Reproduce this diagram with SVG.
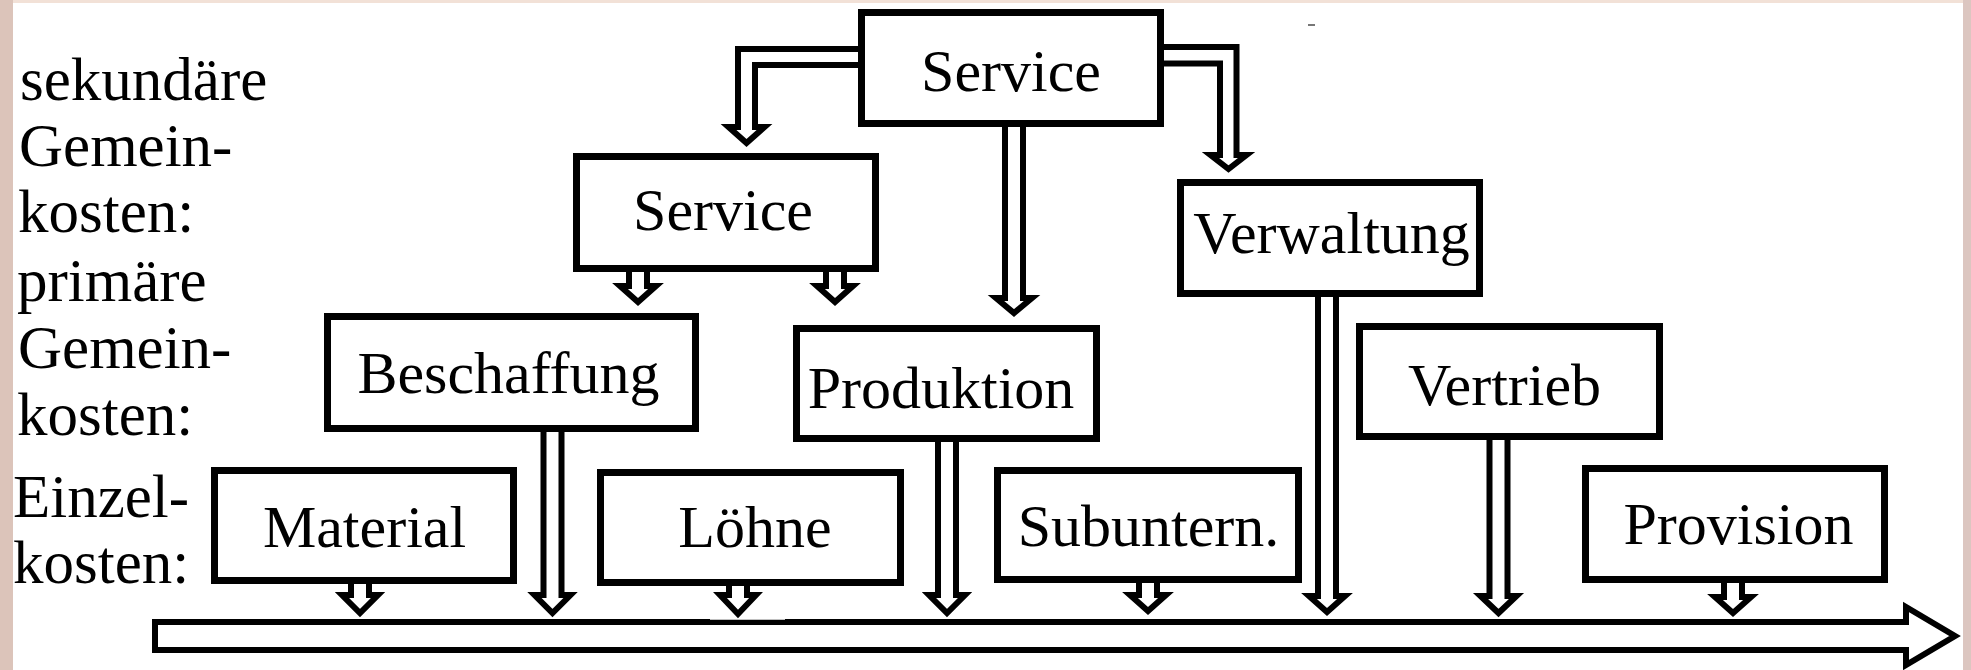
<svg xmlns="http://www.w3.org/2000/svg" width="1971" height="670" viewBox="0 0 1971 670">
<style>
.box{fill:#fff;stroke:#000;stroke-width:7}
.arr{fill:#fff;stroke:#000;stroke-width:6;stroke-linejoin:miter;stroke-miterlimit:10}
.t{font-family:"Liberation Serif","Times New Roman",serif;font-size:60px;fill:#000;text-anchor:middle}
.lbl{font-family:"Liberation Serif","Times New Roman",serif;font-size:61px;fill:#000}
</style>
<g id="background">
<rect x="0" y="0" width="1971" height="670" fill="#fff"/>
<rect x="0" y="0" width="1971" height="3" fill="#f2e1d7"/>
<rect x="0" y="0" width="13" height="670" fill="#dcc4ba"/>
<rect x="1963" y="0" width="8" height="670" fill="#dcc6c0"/>
<rect x="1308" y="24" width="7" height="2" fill="#777"/>
</g>
<g id="labels">
<text class="lbl" x="20" y="100">sekundäre</text>
<text class="lbl" x="19" y="166">Gemein-</text>
<text class="lbl" x="18" y="232">kosten:</text>
<text class="lbl" x="17" y="301">primäre</text>
<text class="lbl" x="18" y="368">Gemein-</text>
<text class="lbl" x="17" y="435">kosten:</text>
<text class="lbl" x="13" y="517">Einzel-</text>
<text class="lbl" x="13" y="583">kosten:</text>
</g>
<g id="connectors">
<path class="arr" d="M155,622 H1906 V607 L1955,636 L1906,665 V650 H155 Z"/>
<line x1="710" y1="619" x2="785" y2="619" stroke="#fff" stroke-width="1.5"/>
<path class="arr" d="M861.5,49 H738 V127 H728.5 L746.5,143 L764.5,127 H755 V65 H861.5"/>
<path class="arr" d="M1160.5,47 H1236.5 V155 H1246.5 L1228.5,169 L1210.5,155 H1220 V63.5 H1160.5"/>
<path class="arr" d="M1005,124 V298 H996 L1014,313 L1032,298 H1023 V124"/>
<path class="arr" d="M629,269 V286 H620 L638,302 L656,286 H647 V269"/>
<path class="arr" d="M826,269 V286 H817 L835,302 L853,286 H844 V269"/>
<path class="arr" d="M543.5,429 V595 H534.5 L552.5,613 L570.5,595 H561.5 V429"/>
<path class="arr" d="M938,439 V595 H929 L947,613 L965,595 H956 V439"/>
<path class="arr" d="M1318,294 V596 H1309 L1327,612 L1345,596 H1336 V294"/>
<path class="arr" d="M1489.5,437 V596 H1480.5 L1498.5,613 L1516.5,596 H1507.5 V437"/>
<path class="arr" d="M351,581 V595 H342 L360,613 L378,595 H369 V581"/>
<path class="arr" d="M729,583 V595 H720 L738,614 L756,595 H747 V583"/>
<path class="arr" d="M1139,580 V595 H1130 L1148,611 L1166,595 H1157 V580"/>
<path class="arr" d="M1724,580 V597 H1715 L1733,613 L1751,597 H1742 V580"/>
</g>
<g id="service-top">
<rect class="box" x="861.5" y="12.5" width="299" height="111"/>
<text class="t" x="1011" y="91">Service</text>
</g>
<g id="service">
<rect class="box" x="576.5" y="156.5" width="299" height="112"/>
<text class="t" x="723" y="230">Service</text>
</g>
<g id="verwaltung">
<rect class="box" x="1180.5" y="182.5" width="299" height="111"/>
<text class="t" x="1331.5" y="253">Verwaltung</text>
</g>
<g id="beschaffung">
<rect class="box" x="327.5" y="316.5" width="368" height="112"/>
<text class="t" x="508.5" y="393">Beschaffung</text>
</g>
<g id="produktion">
<rect class="box" x="796.5" y="328.5" width="300" height="110"/>
<text class="t" x="941" y="408">Produktion</text>
</g>
<g id="vertrieb">
<rect class="box" x="1359.5" y="326.5" width="300" height="110"/>
<text class="t" x="1504.5" y="405">Vertrieb</text>
</g>
<g id="material">
<rect class="box" x="214.5" y="470.5" width="299" height="110"/>
<text class="t" x="364.5" y="547">Material</text>
</g>
<g id="loehne">
<rect class="box" x="600.5" y="472.5" width="300" height="110"/>
<text class="t" x="755" y="547">Löhne</text>
</g>
<g id="subuntern">
<rect class="box" x="997.5" y="470.5" width="301" height="109"/>
<text class="t" x="1148.5" y="546">Subuntern.</text>
</g>
<g id="provision">
<rect class="box" x="1585.5" y="468.5" width="299" height="111"/>
<text class="t" x="1738.5" y="544">Provision</text>
</g>
</svg>
